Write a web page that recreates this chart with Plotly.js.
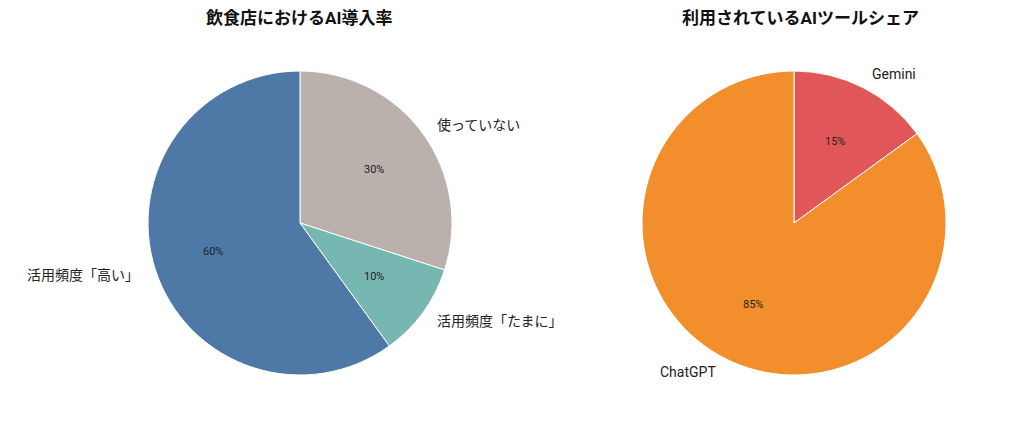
<!DOCTYPE html>
<html><head><meta charset="utf-8">
<script src="https://cdn.plot.ly/plotly-3.0.1.min.js"></script>
<style>html,body{margin:0;padding:0;background:#fff}#chart{width:1024px;height:427px}</style>
</head><body><div id="chart"></div>
<script>
const adoptionLabels = ["使っていない", "活用頻度「たまに」", "活用頻度「高い」"];
const adoptionValues = [30, 10, 60];
const adoptionColors = ["#bab0ac", "#76b7b2", "#4e79a7"];
const toolLabels = ["Gemini", "ChatGPT"];
const toolValues = [15, 85];
const toolColors = ["#e15759", "#f28e2b"];
const titles = ["飲食店におけるAI導入率", "利用されているAIツールシェア"];

const FONT = 'Roboto, "Noto Sans CJK JP", "Noto Sans", sans-serif';
const W = 1024, H = 427, R = 152;
function dom(cx, cy) {
  return { x: [(cx - R) / W, (cx + R) / W], y: [(H - cy - R) / H, (H - cy + R) / H] };
}
const centers = [[300, 223], [794, 223]];

function pieTrace(labels, values, colors, c) {
  return {
    type: 'pie', labels: labels, values: values, domain: dom(c[0], c[1]), sort: false,
    direction: 'clockwise', rotation: 0,
    marker: { colors: colors, line: { color: '#ffffff', width: 1 } },
    textinfo: 'none', hoverinfo: 'label+percent', showlegend: false
  };
}

// Label / percent annotations placed along each slice's mid-angle (derived from the data)
function sliceAnnotations(labels, values, c) {
  const total = values.reduce((a, b) => a + b, 0);
  let cum = 0;
  const out = [];
  values.forEach((v, i) => {
    const mid = (cum + v / 2) / total * 2 * Math.PI; // clockwise from 12 o'clock
    cum += v;
    const dx = Math.sin(mid), dy = Math.cos(mid);
    const lx = c[0] + 1.1 * R * dx, ly = c[1] - 1.1 * R * dy;
    out.push({
      text: labels[i], x: lx / W, y: 1 - ly / H, xref: 'paper', yref: 'paper', showarrow: false,
      xanchor: dx >= 0 ? 'left' : 'right', yanchor: 'middle',
      font: { family: FONT, size: 14, color: '#222222' }
    });
    const px = c[0] + 0.6 * R * dx, py = c[1] - 0.6 * R * dy;
    out.push({
      text: Math.round(v / total * 100) + '%', x: px / W, y: 1 - py / H, xref: 'paper', yref: 'paper',
      showarrow: false, xanchor: 'center', yanchor: 'middle',
      font: { family: FONT, size: 11, color: '#222222' }
    });
  });
  return out;
}

const data = [
  pieTrace(adoptionLabels, adoptionValues, adoptionColors, centers[0]),
  pieTrace(toolLabels, toolValues, toolColors, centers[1])
];

const layout = {
  width: W, height: H, margin: { l: 0, r: 0, t: 0, b: 0 },
  paper_bgcolor: '#ffffff', showlegend: false,
  font: { family: FONT },
  annotations: [
    { text: '<b>' + titles[0] + '</b>', x: 299 / W, y: 1 - 18 / H, xref: 'paper', yref: 'paper',
      showarrow: false, font: { family: FONT, size: 17, color: '#111111' }, xanchor: 'center', yanchor: 'middle' },
    { text: '<b>' + titles[1] + '</b>', x: 800 / W, y: 1 - 18 / H, xref: 'paper', yref: 'paper',
      showarrow: false, font: { family: FONT, size: 17, color: '#111111' }, xanchor: 'center', yanchor: 'middle' }
  ].concat(sliceAnnotations(adoptionLabels, adoptionValues, centers[0]))
   .concat(sliceAnnotations(toolLabels, toolValues, centers[1]))
};
Plotly.newPlot('chart', data, layout, { displayModeBar: false, staticPlot: true });
</script></body></html>
